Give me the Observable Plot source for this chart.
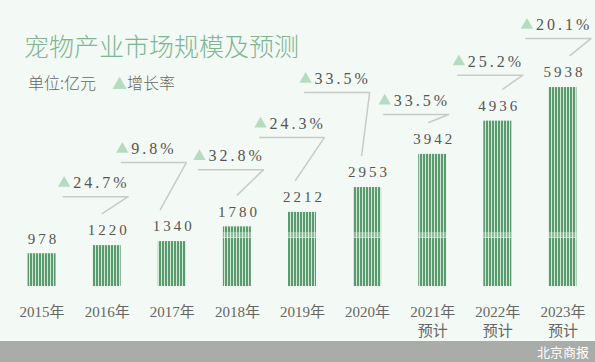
<!DOCTYPE html>
<html>
<head>
<meta charset="utf-8">
<script src="https://cdn.jsdelivr.net/npm/d3@7"></script>
<script src="https://cdn.jsdelivr.net/npm/@observablehq/plot@0.6"></script>
<style>
  html, body { margin: 0; padding: 0; background: #f3f9f4; }
  #wrap { position: relative; width: 595px; height: 362px; overflow: hidden; background: #f3f9f4; }
  #title { position: absolute; left: 24px; top: 27px; font: 300 25px "Noto Sans CJK SC", sans-serif; color: #80b592; white-space: nowrap; }
  #subtitle { position: absolute; left: 28px; top: 70px; font: 300 16px "Noto Sans CJK SC", sans-serif; color: #666; white-space: nowrap; }
  #subtitle .tri { color: #b6dbc0; margin-left: 16px; font-size: 15px; }
  #chart { position: absolute; left: 0; top: 0; }
  #footer { position: absolute; left: 0; top: 341px; width: 595px; height: 21px; background: #a9aca8; color: #fff;
            font: 13px "Noto Sans CJK SC", sans-serif; line-height: 21px; text-align: right; box-sizing: border-box; padding-right: 6px; }
</style>
</head>
<body>
<div id="wrap">
  <div id="chart"></div>
  <div id="title">宠物产业市场规模及预测</div>
  <div id="subtitle">单位:亿元<span class="tri">▲</span>增长率</div>
  <div id="footer">北京商报</div>
</div>
<script>
// ---- data ----
const years = [2015, 2016, 2017, 2018, 2019, 2020, 2021, 2022, 2023];
const values = [978, 1220, 1340, 1780, 2212, 2953, 3942, 4936, 5938];
const growth = [null, 24.7, 9.8, 32.8, 24.3, 33.5, 33.5, 25.2, 20.1];
const yearLabels = ["2015年", "2016年", "2017年", "2018年", "2019年", "2020年", "2021年\n预计", "2022年\n预计", "2023年\n预计"];

// ---- layout (pixels) for the callout annotations ----
const calloutShift = [0, -44, -51, -39, -43, -63, -49, -40, -37]; // line start relative to bar centre
const calloutRise  = [0, 49, 79, 57, 75, 95, 40, 46, 49];         // line height above bar top
const calloutTip   = [0, -5, -12, 0, -7, -6, -4, 5, 7];           // diagonal end relative to bar centre
const calloutLen = 65, tipRise = 32;

const W = 595, H = 341;
const xDomain = [2014.5, 2023.5], xRange = [9, 595];
const yDomain = [0, 6000], yRange = [286, 85];
const pxPerYear = (xRange[1] - xRange[0]) / (xDomain[1] - xDomain[0]);
const unitsPerPx = (yDomain[1] - yDomain[0]) / (yRange[0] - yRange[1]);
const px2x = p => p / pxPerYear;
const px2y = p => p * unitsPerPx;
const barHalf = px2x(14);
const bandLo = px2y(286 - 238), bandHi = px2y(286 - 232);

const rows = years.map((year, i) => ({year, value: values[i], label: yearLabels[i]}));
const callouts = years.map((year, i) => {
  if (growth[i] == null) return null;
  const v = values[i];
  const xs = year + px2x(calloutShift[i]);
  const xe = xs + px2x(calloutLen);
  const ly = v + px2y(calloutRise[i]);
  return {year, pct: growth[i], xs, xe, ly, tx: year + px2x(calloutTip[i]), ty: v + px2y(tipRise)};
}).filter(Boolean);
const calloutPath = callouts.flatMap(c => [
  {year: c.year, x: c.xs, y: c.ly},
  {year: c.year, x: c.xe, y: c.ly},
  {year: c.year, x: c.tx, y: c.ty}
]);

const chart = Plot.plot({
  width: W, height: H,
  marginTop: 0, marginLeft: 9, marginRight: 0, marginBottom: 55,
  style: {background: "transparent", color: "#666", overflow: "visible"},
  x: {type: "linear", domain: xDomain, range: xRange},
  y: {domain: yDomain, range: yRange, axis: null},
  marks: [
    Plot.rectY(rows, {x1: d => d.year - barHalf, x2: d => d.year + barHalf, y: "value", fill: "url(#stripes)"}),
    Plot.rectY(rows.filter(d => d.value > bandLo), {
      x1: d => d.year - barHalf, x2: d => d.year + barHalf,
      y1: bandLo, y2: d => Math.min(d.value, bandHi), fill: "#f3f9f4", fillOpacity: 0.35
    }),
    Plot.rectY(rows.filter(d => d.value > bandLo), {
      x1: d => d.year - barHalf, x2: d => d.year + barHalf,
      y1: bandLo, y2: bandLo + px2y(1), fill: "#f3f9f4", fillOpacity: 0.5
    }),
    Plot.text(rows, {x: "year", y: "value", text: d => String(d.value), dy: -15, dx: 1.5,
      fontSize: 15, fontFamily: "Liberation Serif, serif", fill: "#555"}),
    Plot.line(calloutPath, {x: "x", y: "y", z: "year", stroke: "#c9cbc9", strokeWidth: 1.5, curve: "linear"}),
    Plot.dot(callouts, {x: "xs", y: "ly", symbol: "triangle", r: 4.6, dx: 1, dy: -13.5, fill: "#b6dbc0", stroke: "none"}),
    Plot.text(callouts, {x: "xs", y: "ly", text: d => d.pct.toFixed(1) + "%", dx: 10, dy: -13.5, textAnchor: "start",
      fontSize: 16, fontFamily: "Liberation Serif, serif", fill: "#555"}),
    Plot.axisX({ticks: years, tickFormat: (d) => yearLabels[years.indexOf(d)], tickSize: 0, tickPadding: 17,
      fontSize: 15, fontFamily: "Liberation Serif, 'Noto Sans CJK SC', serif", lineHeight: 1.25, fill: "#666", label: null})
  ]
});

const svg = d3.select(chart);
svg.selectAll('g[aria-label="text"] text').style("letter-spacing", "3px");
const defs = svg.insert("defs", ":first-child");
const pat = defs.append("pattern").attr("id", "stripes").attr("patternUnits", "userSpaceOnUse")
  .attr("width", 3).attr("height", 10);
pat.append("rect").attr("width", 3).attr("height", 10).attr("fill", "#d2e8d6");
pat.append("rect").attr("width", 2).attr("height", 10).attr("fill", "#5a9a6f");

document.getElementById("chart").appendChild(chart);
</script>
</body>
</html>
